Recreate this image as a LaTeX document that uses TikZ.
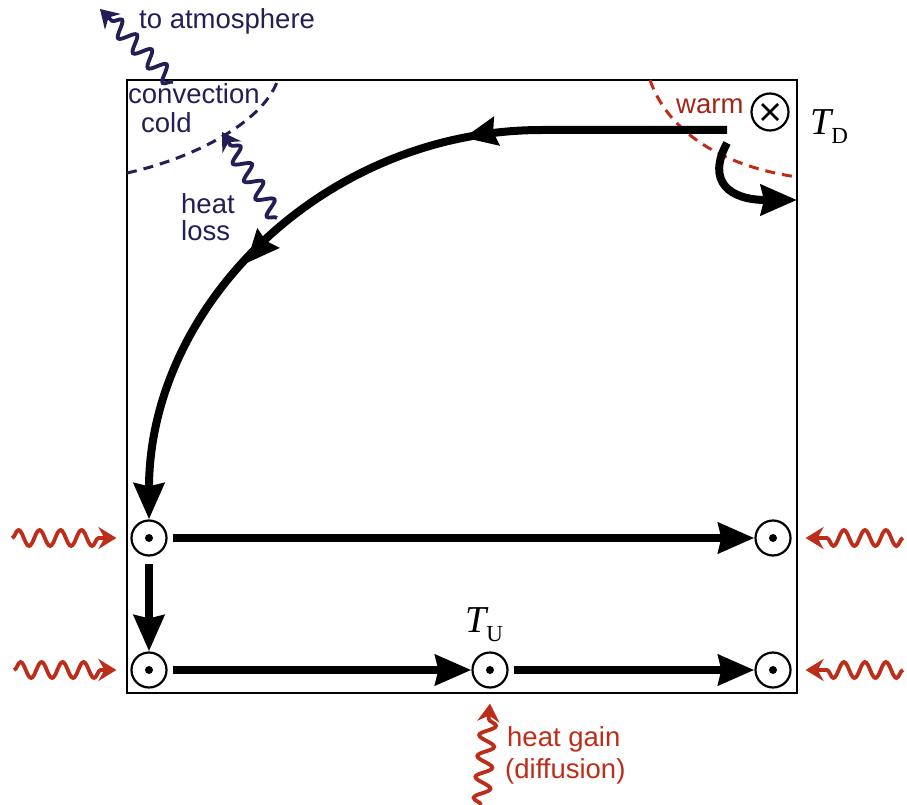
\documentclass[tikz,border=0pt]{standalone}
\usepackage{fontspec}
\setmainfont{Liberation Serif}
\setsansfont{Liberation Sans}
\usetikzlibrary{
    arrows.meta,
    positioning,
    decorations.pathmorphing,
    decorations.markings
}
\definecolor{coldnavy}{RGB}{35, 30, 85}
\definecolor{warmred}{RGB}{190, 45, 25}
\newcommand{\tsub}[1]{{\fontsize{38}{40}\selectfont\itshape T}\raisebox{-9pt}{\fontsize{23}{24}\selectfont #1}}

\tikzset{
    outflow/.style={circle, draw, line width=2.2pt, minimum size=35pt, inner sep=0pt,
        path picture={\fill (path picture bounding box.center) circle (4pt);}},
    inflow/.style={circle, draw, line width=2.2pt, minimum size=37pt, inner sep=0pt,
        path picture={
            \draw[line width=2.8pt] ([shift={(-8pt,-8pt)}]path picture bounding box.center) -- ++(16pt,16pt);
            \draw[line width=2.8pt] ([shift={(-8pt,8pt)}]path picture bounding box.center) -- ++(16pt,-16pt);}},
    flow/.style={line width=8pt, -{Stealth[length=36pt,width=30pt,inset=3pt]}},
    heatwave/.style={line width=3.8pt, decorate,
        decoration={snake, amplitude=8pt, segment length=21pt, post length=12pt},
        -{Stealth[length=18pt,width=22pt,inset=6pt]}},
    boundary/.style={line width=3pt, dash pattern=on 10pt off 7pt},
    lbl/.style={font=\sffamily\fontsize{27.5}{24}\selectfont, inner sep=0pt, anchor=base west}
}

\begin{document}
\begin{tikzpicture}[x=1pt,y=-1pt]
    \useasboundingbox (0,0) rectangle (907,805);

    % Box
    \draw[line width=2pt] (127,80) rectangle (797,693);

    % Water masses
    \node[inflow] (down) at (770,112) {};
    \node[outflow] (ul) at (149,538) {};
    \node[outflow] (ur) at (773,538) {};
    \node[outflow] (ll) at (149,670) {};
    \node[outflow] (um) at (490,670) {};
    \node[outflow] (lr) at (773,670) {};
    \node (td) at (829,127) {\tsub{D}};
    \node (tu) at (484,625) {\tsub{U}};

    % Boundaries
    \draw[boundary, coldnavy] (127,173) .. controls (195,158) and (262,122) .. (277,82);
    \draw[boundary, warmred] (650,80) .. controls (668,132) and (722,166) .. (797,177);

    % Labels
    \node[lbl, coldnavy] (atm) at (139,29) {to atmosphere};
    \node[lbl, coldnavy] (conv) at (128,104) {convection};
    \node[lbl, coldnavy] (cold) at (141,133) {cold};
    \node[lbl, coldnavy] (heat) at (181,213) {heat};
    \node[lbl, coldnavy] (loss) at (181,240) {loss};
    \node[lbl, warmred!85!black] (warm) at (676,114) {warm};
    \node[lbl, warmred] (gain) at (507,746) {heat gain};
    \node[lbl, warmred] (diff) at (505,778) {(diffusion)};

    % Circulation
    \coordinate (flowstart) at (727,130);
    \draw[flow, postaction={decorate}, decoration={markings,
        mark=at position 0.33 with {\arrow{Stealth[length=33pt,width=28pt,inset=3pt]}},
        mark=at position 0.65 with {\arrow{Stealth[length=33pt,width=28pt,inset=3pt]}}}]
        (flowstart) -- (542,130) .. controls (324,130) and (149,306) .. (ul.north);
    \draw[flow] (727,143) .. controls (706,182) and (730,200) .. (797,200);
    \draw[flow, shorten <=5pt] (ul) -- (ur);
    \draw[flow, shorten <=7pt] (ul) -- (ll);
    \draw[flow, shorten <=5pt] (ll) -- (um);
    \draw[flow, shorten <=5pt] (um) -- (lr);

    % Heat exchange
    \coordinate (atmfrom) at (173,82);
    \coordinate (atmto) at (100,9);
    \coordinate (lossfrom) at (277,218);
    \coordinate (lossto) at (222,132);
    \draw[heatwave, coldnavy] (atmfrom) -- (atmto);
    \draw[heatwave, coldnavy] (lossfrom) -- (lossto);
    \draw[heatwave, warmred] (12,538) -- ([xshift=-14pt]ul.west);
    \draw[heatwave, warmred] (14,670) -- ([xshift=-14pt]ll.west);
    \draw[heatwave, warmred] (903,538) -- ([xshift=14pt]ur.east);
    \draw[heatwave, warmred] (903,670) -- ([xshift=14pt]lr.east);
    \draw[heatwave, warmred] (481,805) -- ([yshift=-15pt]um.south);
\end{tikzpicture}
\end{document}
